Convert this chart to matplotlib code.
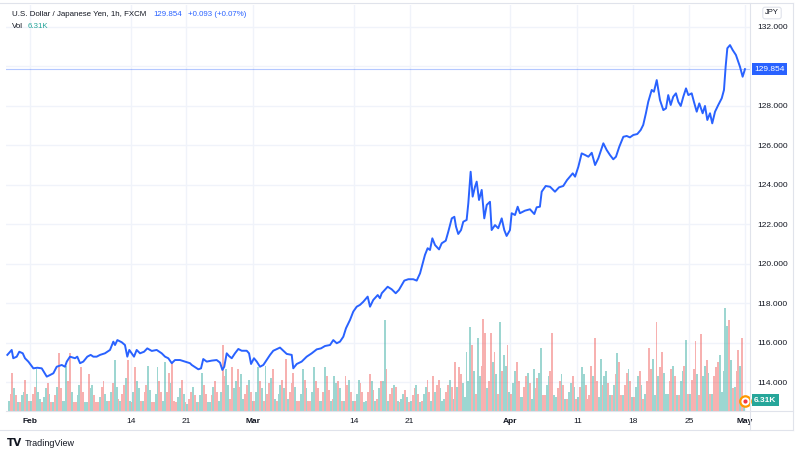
import matplotlib
matplotlib.use("Agg")
import matplotlib.pyplot as plt
from matplotlib.transforms import blended_transform_factory
from matplotlib.lines import Line2D

# ---------------- data ----------------
# x = trading-day index (0 = Fri 28 Jan 2022, weekends skipped), USD/JPY close
day_idx = [-0.03, 0.36, 0.50, 0.81, 1.04, 1.35, 1.55, 1.85, 2.30, 2.65, 3.05, 3.50, 3.79, 4.09, 4.39, 4.84, 5.13, 5.29, 5.58, 6.03,
           6.23, 6.48, 6.77, 7.13, 7.43, 7.67, 7.97, 8.27, 8.71, 9.16, 9.46, 9.61, 9.82, 10.21, 10.50, 10.71, 10.89, 11.10, 11.31, 11.55,
           11.85, 12.21, 12.50, 12.90, 13.34, 13.79, 14.09, 14.38, 14.69, 14.98, 15.43, 15.88, 16.32,
           16.48, 17.07, 17.31, 17.51, 17.82, 18.27, 18.71, 19.01, 19.22, 19.39, 19.61, 19.82, 20.06, 20.35, 20.65, 20.95, 21.40, 21.61,
           21.79, 22.05, 22.30, 22.59, 22.89, 23.19, 23.49, 23.78, 24.38, 24.68, 24.98, 25.43, 25.57, 25.88, 26.32, 26.77, 27.22, 27.67,
           28.05, 28.41, 28.86, 29.15, 29.46, 29.75, 30.05, 30.29, 30.65, 30.94, 31.25, 31.54, 31.84, 32.23, 32.44, 32.73, 33.13, 33.33,
           33.49, 34.02, 34.38, 34.74, 35.03, 35.51, 35.87, 36.31, 36.62, 36.92, 37.12, 37.36, 37.60, 37.81, 38.02, 38.26, 38.62, 38.86,
           39.22, 39.45, 39.76, 39.99, 40.14, 40.34, 40.59, 40.79, 41.09, 41.24, 41.45, 41.63, 41.84, 41.99, 42.20, 42.44, 42.67, 42.89,
           43.18, 43.33, 43.63, 43.92, 44.23, 44.46, 44.67, 44.97, 45.12, 45.42, 45.66, 45.86, 46.31, 46.76, 47.15, 47.36, 47.65, 47.81,
           48.17, 48.56, 49.00, 49.36, 49.74, 50.08,
           50.59, 50.80, 51.09, 51.39, 51.69, 51.99, 52.29, 52.59, 52.88, 53.33, 53.63, 53.92, 54.22, 54.46, 54.76, 55.12, 55.42, 55.71,
           56.01, 56.37, 56.67, 56.90, 57.14, 57.35, 57.66, 57.86, 58.11, 58.25, 58.40, 58.70, 58.94, 59.14, 59.36, 59.59, 59.83, 60.04,
           60.26, 60.49, 60.73, 60.94, 61.24, 61.44, 61.69, 61.92, 62.22, 62.43, 62.64, 62.88, 63.08, 63.33, 63.62, 63.93, 64.13, 64.28,
           64.43, 64.67, 64.91, 65.20, 65.41, 65.56, 65.80, 66.01]
price = [115.39, 115.64, 115.22, 115.30, 115.55, 115.47, 115.22, 115.05, 114.71, 114.74, 114.71, 114.29, 114.37, 114.46, 114.79, 114.88, 114.79, 115.05, 115.30, 115.22,
         115.30, 114.97, 115.05, 115.30, 115.39, 115.30, 115.30, 115.39, 115.47, 115.64, 116.06, 115.89, 116.14, 116.03, 115.89, 115.30, 115.64, 115.47, 115.30, 115.64,
         115.47, 115.55, 115.72, 115.59, 115.64, 115.47, 115.30, 115.22, 114.97, 115.13, 115.13, 115.05, 114.97,
         114.88, 114.66, 114.71, 115.18, 115.05, 115.10, 115.13, 115.00, 114.63, 114.79, 115.47, 115.33, 115.22, 115.47, 115.69, 115.60, 115.60, 115.47,
         114.93, 115.22, 115.05, 114.79, 114.88, 115.13, 115.39, 115.60, 115.76, 115.60, 115.44, 115.39, 114.71, 114.93, 115.05, 115.30, 115.47, 115.67,
         115.72, 115.84, 115.89, 116.14, 115.98, 116.06, 116.31, 116.74, 117.16, 117.58, 117.83, 117.92, 118.08, 118.34, 117.83, 118.17, 118.42, 118.26,
         118.51, 118.84, 118.71, 118.51, 118.68, 119.15, 119.22, 119.22, 119.15, 119.52, 119.94, 120.45, 120.79, 120.70, 121.29, 120.95, 120.73, 121.04,
         121.17, 121.63, 122.30, 122.38, 121.88, 121.51, 121.71, 122.13, 122.22, 123.06, 124.66, 123.40, 123.90, 124.16, 123.23, 123.74, 122.30, 122.98,
         123.14, 121.71, 121.96, 121.80, 122.30, 121.71, 121.41, 121.71, 122.56, 122.47, 122.89, 122.56, 122.69, 122.76, 122.52, 122.86, 122.89, 123.65,
         123.94, 123.90, 123.65, 123.87, 123.94, 124.24,
         124.58, 124.41, 124.91, 125.59, 125.51, 125.42, 125.62, 125.00, 125.34, 126.10, 125.76, 125.51, 125.29, 125.42, 125.93, 126.43, 126.47, 126.40,
         126.52, 126.57, 126.77, 127.03, 127.62, 128.20, 128.80, 128.71, 129.30, 128.80, 128.29, 127.78, 127.87, 128.54, 128.04, 128.46, 128.63, 128.20,
         127.99, 128.46, 128.88, 128.54, 128.63, 128.20, 127.70, 128.12, 127.62, 127.99, 127.28, 127.62, 127.11, 127.70, 128.04, 128.38, 128.80, 129.98,
         130.91, 131.07, 130.82, 130.57, 130.23, 129.98, 129.47, 129.854]

# volume in thousands, 6 slots per trading day (day 0 .. 65)
volume_k = [6, 10, 22, 13, 9, 5,   5, 9, 11, 18, 10, 6,   6, 10, 14, 24, 11, 7,   5, 8, 13, 16, 10, 5,
            5, 9, 14, 33, 13, 6,   6, 26, 17, 33, 11, 5,   5, 9, 15, 25, 11, 5,   5, 21, 13, 15, 9, 5,
            5, 8, 14, 17, 10, 6,   6, 11, 16, 29, 14, 7,   6, 10, 15, 19, 29, 6,   5, 11, 25, 17, 13, 6,
            6, 11, 15, 26, 12, 5,   5, 10, 25, 17, 11, 6,   28, 11, 22, 16, 28, 6,  5, 8, 13, 18, 10, 5,
            4, 7, 11, 14, 9, 5,    5, 9, 22, 15, 10, 5,    5, 9, 14, 17, 11, 6,    11, 38, 20, 24, 15, 7,
            25, 13, 17, 24, 14, 21, 7, 10, 15, 18, 11, 6,  6, 11, 25, 17, 13, 6,   26, 10, 16, 19, 24, 7,
            6, 10, 15, 18, 13, 30,  7, 11, 16, 22, 14, 6,  6, 10, 24, 18, 13, 6,   6, 11, 25, 17, 13, 6,
            6, 11, 25, 20, 12, 6,   7, 20, 16, 17, 13, 6,  6, 20, 15, 18, 11, 6,   6, 10, 18, 16, 11, 5,
            6, 11, 21, 17, 12, 6,   7, 13, 17, 17, 52, 24, 6, 10, 13, 15, 14, 6,   5, 7, 10, 12, 8, 5,
            6, 9, 13, 15, 10, 5,    6, 10, 14, 18, 11, 6,  20, 11, 15, 18, 13, 6,  7, 11, 15, 18, 14, 7,
            28, 14, 25, 21, 16, 8,  34, 17, 48, 38, 23, 10, 42, 20, 26, 53, 45, 13, 17, 45, 28, 34, 21, 10,
            51, 23, 32, 26, 38, 11, 10, 16, 23, 28, 17, 8, 8, 14, 20, 22, 16, 7,   24, 13, 19, 22, 36, 9,
            9, 15, 20, 23, 45, 9,   8, 13, 17, 21, 15, 7,  7, 11, 16, 20, 14, 7,   8, 14, 25, 21, 15, 7,
            9, 26, 20, 42, 17, 8,   30, 15, 20, 23, 16, 9, 9, 15, 21, 33, 28, 9,   9, 15, 22, 24, 17, 8,
            8, 14, 20, 23, 15, 7,   10, 17, 36, 24, 30, 9, 51, 20, 25, 34, 22, 10, 10, 17, 24, 26, 20, 9,
            9, 17, 23, 26, 41, 10,  10, 18, 24, 40, 21, 9, 44, 20, 26, 29, 22, 10, 10, 20, 25, 28, 32, 11,
            23, 59, 49, 52, 29, 13, 14, 23, 35, 26, 42, 6.31]
volume_dir = ("uddudu duudud udduuu duudud ududdu uuddud duuddu uduudd dudduu duduud uddudu duduud "
              "udduud duuddu uddudd duudud uddudu duuddu ududdu udduud duuddu uddudu duudud uddudu "
              "duudud udddud duudud duuddu ududdu duudud uddudu duuddu uddudu duduud uddudu duudud "
              "uddudu duuddu dudduu uddudu dudduu uuudud uudddu ddudud uduudu duuddu uddudu udduud "
              "duuddu uddudu duudud uduudd dduddu uduudu dududd uddudu duudud uddduu dudduu uddudu "
              "duudud udddud duudud uddduu uuudud uddudu").replace(" ", "")

tick_days = [2, 11, 16, 22, 31, 36, 45, 51, 56, 61, 66]
tick_labels = ["Feb", "14", "21", "Mar", "14", "21", "Apr", "11", "18", "25", "May"]
month_labels = {"Feb", "Mar", "Apr", "May"}
price_ticks = [114, 116, 118, 120, 122, 124, 126, 128, 130, 132]
last_price = 129.854
last_change = "+0.093 (+0.07%)"
last_volume = "6.31K"
title = "U.S. Dollar / Japanese Yen, 1h, FXCM"

# ---------------- style ----------------
BLUE = "#2962ff"
TEAL = "#26a69a"
RED = "#ef5350"
TXT = "#131722"
GRID = "#f0f3fa"
BORDER = "#e0e3eb"
FONT = "Liberation Sans"

W, H = 800, 454
fig = plt.figure(figsize=(W / 100, H / 100), dpi=100)
fig.patch.set_facecolor("white")

def fx(px):
    return px / W

def fy(py):
    return 1 - py / H

L, R, T, B = 6, 750, 5, 411
rect = [fx(L), fy(B), fx(R) - fx(L), fy(T) - fy(B)]
xlim = (-0.15, 66.46)
ylim = (112.55, 133.10)

# background axes: grid
ax_bg = fig.add_axes(rect)
ax_bg.set_xlim(*xlim)
ax_bg.set_ylim(*ylim)
for t in price_ticks:
    ax_bg.axhline(t, color=GRID, lw=1.0, zorder=0)
for t in tick_days:
    ax_bg.axvline(t, color=GRID, lw=1.0, zorder=0)
ax_bg.axis("off")

# volume axes
ax_vol = fig.add_axes(rect, sharex=ax_bg)
ax_vol.patch.set_visible(False)
vx = [i / 6 + 1 / 12 for i in range(len(volume_k))]
vcol = [TEAL if c == "u" else RED for c in volume_dir[:len(volume_k)]]
ax_vol.bar(vx, volume_k, width=1 / 6, color=vcol, alpha=0.45, linewidth=0)
ax_vol.set_ylim(0, 233)
ax_vol.axis("off")

# price axes
ax = fig.add_axes(rect, sharex=ax_bg)
ax.patch.set_visible(False)
ax.set_xlim(*xlim)
ax.set_ylim(*ylim)
ax.plot(day_idx, price, color=BLUE, lw=1.4, solid_joinstyle="round", zorder=5)
ax.axhline(last_price, color=BLUE, lw=0.8, alpha=0.35, zorder=4)

for s in ax.spines.values():
    s.set_visible(False)
ax.yaxis.tick_right()
ax.set_yticks(price_ticks)
# the 130.000 label sits under the last-price box in the reference, so it is not shown
ax.set_yticklabels(["" if abs(t - last_price) < 1 else f"{t:.3f}" for t in price_ticks],
                   fontsize=6, color=TXT, family=FONT)
ax.tick_params(axis="y", length=0, pad=5)
ax.set_xticks(tick_days)
ax.set_xticklabels(tick_labels, fontsize=6, color=TXT, family=FONT)
ax.tick_params(axis="x", length=0, pad=5)
for lab in ax.get_xticklabels():
    if lab.get_text() in month_labels:
        lab.set_fontweight("bold")

# last price label
trans = blended_transform_factory(ax.transAxes, ax.transData)
ax.text(1 + 4 / 744, last_price, f"{last_price:.3f}", transform=trans, fontsize=6, family=FONT,
        color="white", va="center", ha="left", zorder=10,
        bbox=dict(boxstyle="square,pad=0.28", fc=BLUE, ec="none"), clip_on=False)
# last volume label
vtrans = blended_transform_factory(ax_vol.transAxes, ax_vol.transData)
ax_vol.text(1 + 4 / 744, volume_k[-1], last_volume, transform=vtrans, fontsize=6, family=FONT,
            color="white", va="center", ha="left", zorder=10, fontweight="bold",
            bbox=dict(boxstyle="square,pad=0.3", fc=TEAL, ec="none"), clip_on=False)
# live marker
ax_vol.plot([66.0], [5.5], marker="o", ms=7.5, mfc="white", mec="#ff9800", mew=1.6, zorder=9, clip_on=False)
ax_vol.plot([66.0], [5.5], marker="o", ms=3, mfc="#f23645", mec="none", zorder=10, clip_on=False)

# frame lines
def hline(py, x0, x1):
    fig.add_artist(Line2D([fx(x0), fx(x1)], [fy(py), fy(py)], color=BORDER, lw=0.8))

def vline(px, y0, y1):
    fig.add_artist(Line2D([fx(px), fx(px)], [fy(y0), fy(y1)], color=BORDER, lw=0.8))

hline(B, L, 793)
hline(430, 0, 793)
hline(3, 0, 793)
vline(R, 3, 430)
vline(793, 3, 430)

# header
HF = 5.7
fig.text(fx(12), fy(14), title, fontsize=HF, color=TXT, family=FONT, va="center")
fig.text(fx(153), fy(14), f"{last_price:.3f}", fontsize=HF, color=BLUE, family=FONT, va="center")
fig.text(fx(188), fy(14), last_change, fontsize=HF, color=BLUE, family=FONT, va="center")
fig.text(fx(12), fy(26), "Vol", fontsize=HF, color=TXT, family=FONT, va="center")
fig.text(fx(28), fy(26), last_volume, fontsize=HF, color=TEAL, family=FONT, va="center")

# currency box
fig.text(fx(772), fy(13), "JPY", fontsize=5.5, color=TXT, family=FONT, va="center", ha="center",
         bbox=dict(boxstyle="round,pad=0.3,rounding_size=0.3", fc="white", ec=BORDER, lw=0.8))

# TradingView logo
fig.text(fx(7), fy(443), "TV", fontsize=7.5, color=TXT, family="DejaVu Sans", fontweight="bold", va="center")
fig.text(fx(25), fy(443), "TradingView", fontsize=6.5, color=TXT, family=FONT, va="center")

fig.savefig("out.png", dpi=100)
